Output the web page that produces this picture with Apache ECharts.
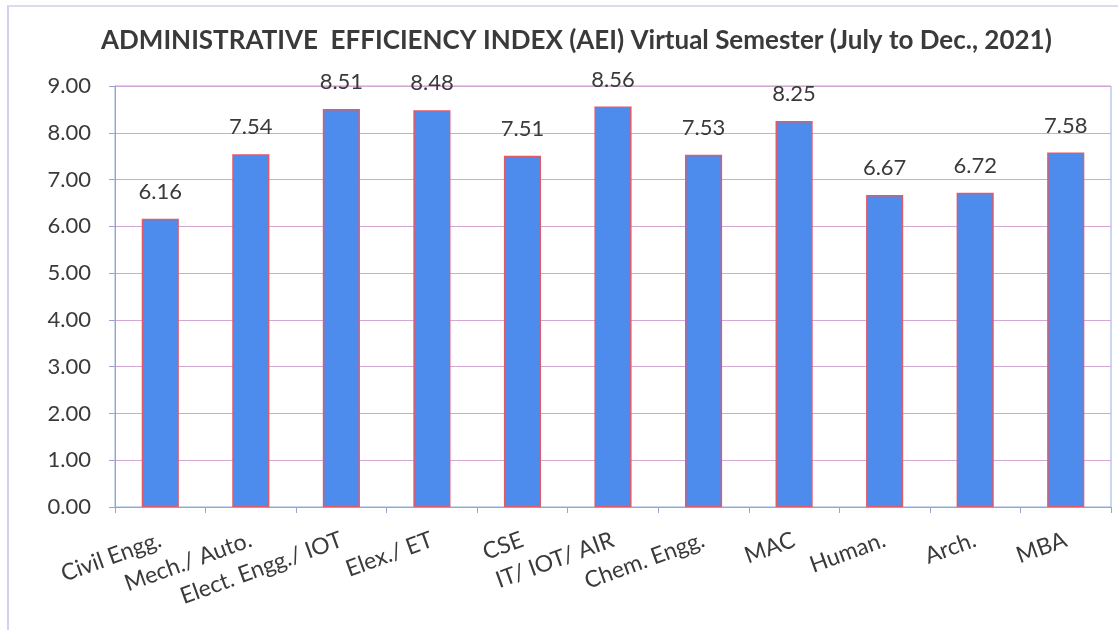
<!DOCTYPE html>
<html>
<head>
<meta charset="utf-8">
<script src="https://cdn.jsdelivr.net/npm/echarts@6/dist/echarts.min.js"></script>
<style>
  html, body { margin: 0; padding: 0; background: #fff; }
  #wrap { position: relative; width: 1118px; height: 630px; }
  #main { width: 1118px; height: 630px; }
  /* faint frame of the pasted chart */
  #frame { position: absolute; left: 7px; top: 5px; right: -10px; bottom: -10px;
           border-left: 2px solid #d2d2ec; border-top: 2px solid #e2d8ec; pointer-events: none; }
</style>
</head>
<body>
<div id="wrap">
  <div id="main"></div>
  <div id="frame"></div>
</div>
<script>
var titleText = "ADMINISTRATIVE  EFFICIENCY INDEX (AEI) Virtual Semester (July to Dec., 2021)";
var categories = ["Civil Engg.", "Mech./ Auto.", "Elect. Engg./ IOT", "Elex./ ET", "CSE", "IT/ IOT/ AIR", "Chem. Engg.", "MAC", "Human.", "Arch.", "MBA"];
var aeiValues = [6.16, 7.54, 8.51, 8.48, 7.51, 8.56, 7.53, 8.25, 6.67, 6.72, 7.58];

var myChart = echarts.init(document.getElementById("main"));
var fontFam = "Lato, 'Open Sans', sans-serif";

var option = {
  backgroundColor: "#fff",
  animation: false,
  title: {
    text: titleText,
    left: 96,
    top: 23,
    textStyle: { fontFamily: fontFam, fontSize: 26, fontWeight: "bold", color: "#3a3a3a" }
  },
  grid: {
    left: 115,
    right: 7,
    top: 86,
    bottom: 123,
    show: true,
    borderColor: "#8fb0e0",
    borderWidth: 1
  },
  xAxis: {
    type: "category",
    data: categories,
    axisLine: { lineStyle: { color: "#a0a0d0" } },
    axisTick: { show: true, length: 6, lineStyle: { color: "#a0a0d0" } },
    axisLabel: {
      rotate: 20,
      margin: 32,
      interval: 0,
      fontFamily: fontFam,
      fontSize: 23,
      color: "#3a3a3a"
    }
  },
  yAxis: {
    type: "value",
    min: 0,
    max: 9,
    interval: 1,
    axisLine: { show: true, lineStyle: { color: "#a0a0d0" } },
    axisTick: { show: true, length: 6, lineStyle: { color: "#a0a0d0" } },
    axisLabel: {
      margin: 24,
      fontFamily: fontFam,
      fontSize: 22,
      color: "#3a3a3a",
      formatter: function (v) { return v.toFixed(2); }
    },
    splitLine: { lineStyle: { color: "#d4a8d4" } }
  },
  series: [
    {
      name: "AEI",
      type: "bar",
      data: aeiValues,
      barWidth: "41%",
      itemStyle: { color: "#4d8ced", borderColor: "#e05a6a", borderWidth: 1.5 },
      label: {
        show: true,
        position: "top",
        distance: 16,
        fontFamily: fontFam,
        fontSize: 22,
        color: "#3a3a3a",
        formatter: function (p) { return p.value.toFixed(2); }
      }
    }
  ]
};

myChart.setOption(option);
</script>
</body>
</html>
